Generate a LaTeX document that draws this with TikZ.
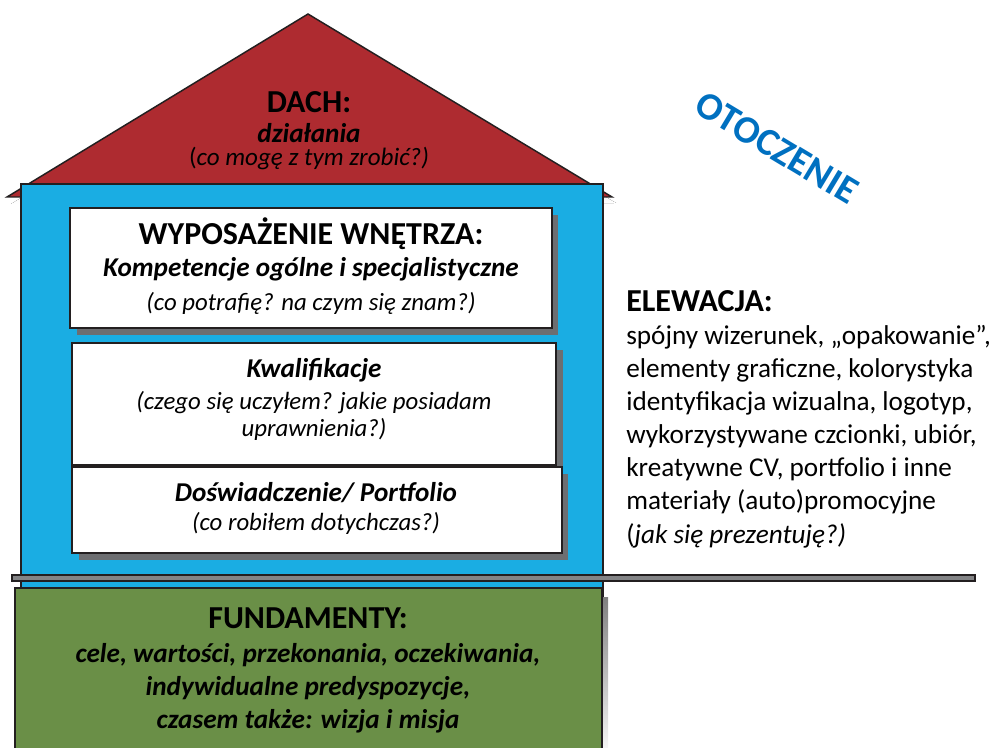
\documentclass[tikz,border=0pt]{standalone}
\usepackage{fontspec}
\setmainfont{Carlito}
\begin{document}
\begin{tikzpicture}[x=0.75pt,y=-0.75pt]
  \definecolor{roofred}{HTML}{AE2B30}
  \definecolor{wallblue}{HTML}{1AADE3}
  \definecolor{basegreen}{HTML}{6A8F47}
  \definecolor{shade}{HTML}{6D6E71}
  \definecolor{edge}{HTML}{231F20}
  \definecolor{skyblue}{HTML}{0070C0}
  \tikzset{
    outline/.style={draw=edge, line width=1.1pt},
    panel/.style={outline, fill=white},
    shadowfill/.style={fill=shade},
    ln/.style={anchor=base, inner sep=0pt},
    head/.style={ln, font=\fontsize{24pt}{28pt}\selectfont\bfseries},
    sub/.style={ln, font=\fontsize{20.4pt}{24pt}\selectfont\bfseries\itshape},
    note/.style={ln, font=\fontsize{18.6pt}{22pt}\selectfont\itshape},
    body/.style={ln, anchor=base west, font=\fontsize{20.4pt}{24pt}\selectfont},
  }
  \useasboundingbox (0,0) rectangle (993,748);

  % roof with its shadow
  \fill[shade] (11,204) -- (310,21) -- (616,203) -- cycle;
  \draw[outline, fill=roofred] (7,197) -- (308,14) -- (612,197) -- cycle;

  % wall
  \draw[outline, fill=wallblue] (21,184) rectangle (603,600);

  % interior panels with shadows
  \fill[shadowfill] (77,215) rectangle (558,335);
  \draw[panel] (70,208) rectangle (552,328);
  \fill[shadowfill] (79,350) rectangle (563,472);
  \draw[panel] (72,343) rectangle (556,465);
  \fill[shadowfill] (79,474) rectangle (568,560);
  \draw[panel] (72,467) rectangle (562,553);

  % ground line
  \draw[draw=edge, line width=1.1pt, fill=shade!85] (12,575) rectangle (975,581);

  % foundation
  \fill[shade] (22,597) rectangle (608,760);
  \draw[outline, fill=basegreen] (15,588) rectangle (602,760);

  % roof texts
  \node[head] (dach1) at (309,113) {DACH:};
  \node[sub]  (dach2) at (309,143) {działania};
  \node[ln, font=\fontsize{18.8pt}{22pt}\selectfont] (dach3) at (309,166) {(\textit{co mogę z tym zrobić?)}};

  % interior
  \node[head] (wyp1) at (311,245) {WYPOSAŻENIE WNĘTRZA:};
  \node[sub]  (wyp2) at (311,277) {Kompetencje ogólne i specjalistyczne};
  \node[note] (wyp3) at (311,311) {(co potrafię? na czym się znam?)};

  \node[sub]  (kw1) at (314,378) {Kwalifikacje};
  \node[note] (kw2) at (314,410) {(czego się uczyłem? jakie posiadam};
  \node[note] (kw3) at (314,437) {uprawnienia?)};

  \node[sub]  (do1) at (316,502) {Doświadczenie/ Portfolio};
  \node[note] (do2) at (316,531) {(co robiłem dotychczas?)};

  % foundation texts
  \node[head] (fu1) at (308,628) {FUNDAMENTY:};
  \node[sub]  (fu2) at (308,662) {cele, wartości, przekonania, oczekiwania,};
  \node[sub]  (fu3) at (308,695) {indywidualne predyspozycje,};
  \node[sub]  (fu4) at (308,728) {czasem także: wizja i misja};

  % elevation
  \node[head, anchor=base west] (el0) at (626,312) {ELEWACJA:};
  \node[body] (el1) at (626,345) {spójny wizerunek, „opakowanie”,};
  \node[body] (el2) at (626,378) {elementy graficzne, kolorystyka};
  \node[body] (el3) at (626,411) {identyfikacja wizualna, logotyp,};
  \node[body] (el4) at (626,444) {wykorzystywane czcionki, ubiór,};
  \node[body] (el5) at (626,477) {kreatywne CV, portfolio i inne};
  \node[body] (el6) at (626,510) {materiały (auto)promocyjne};
  \node[body] (el7) at (626,543) {(\textit{jak się prezentuję?)}};

  % surroundings
  \node[inner sep=0pt, rotate=-31, text=skyblue, font=\fontsize{29pt}{32pt}\selectfont\bfseries] (oto) at (777,148) {OTOCZENIE};
\end{tikzpicture}
\end{document}
